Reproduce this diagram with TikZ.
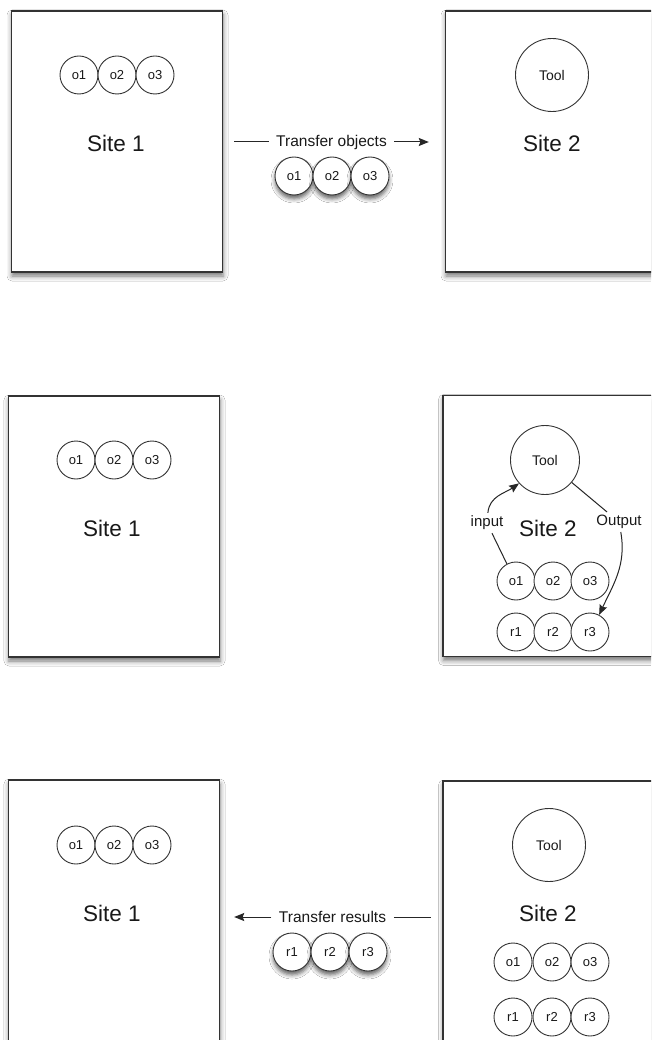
\documentclass[tikz,border=0pt]{standalone}
\usepackage{fontspec}
\setmainfont{Liberation Sans}
\usetikzlibrary{arrows.meta,shadows.blur}
\begin{document}
\begin{tikzpicture}[x=1pt,y=1pt,
  site/.style={draw=black!80, line width=1.4pt, fill=white, rectangle, minimum width=211pt, minimum height=261pt, inner sep=0pt,
    blur shadow={shadow xshift=0.5pt, shadow yshift=-4pt, shadow blur radius=5pt, shadow opacity=55}},
  obj/.style={circle, draw=black!80, line width=0.9pt, fill=white, minimum size=38pt, inner sep=0pt, text=black!90, font=\fontsize{13}{15}\selectfont},
  sobj/.style={obj, blur shadow={shadow xshift=0pt, shadow yshift=-4pt, shadow blur radius=4pt, shadow opacity=60}},
  tool/.style={circle, draw=black!80, line width=0.9pt, fill=white, minimum size=73pt, inner sep=0pt, text=black!90, font=\fontsize{14}{16}\selectfont},
  sitelbl/.style={font=\fontsize{22.5}{26}\selectfont, text=black!90},
  xferlbl/.style={font=\fontsize{15.5}{18}\selectfont, inner xsep=7.5pt, text=black!90},
  flowlbl/.style={font=\fontsize{15}{18}\selectfont, inner sep=3pt, text=black!90},
  conn/.style={draw=black!85, line width=1pt},
  tip/.style={-{Stealth[length=10pt,width=8pt,inset=1.5pt]}}
]
\clip (0,0) rectangle (651,-1040);
\fill[white] (0,0) rectangle (651,-1040);

% ---------- Row 1 ----------
\node[site] (A1) at (117,-141.5) {};
\node[obj] (a1o1) at (79,-75) {o1};
\node[obj] (a1o2) at (117,-75) {o2};
\node[obj] (a1o3) at (155,-75) {o3};
\node[sitelbl] (A1l) at (116,-143) {Site 1};

\node[site] (B1) at (551,-141.5) {};
\node[tool] (B1t) at (552,-75) {Tool};
\node[sitelbl] (B1l) at (552,-143) {Site 2};

\node[xferlbl] (T1) at (331.5,-142) {Transfer objects};
\draw[conn] ([xshift=11pt]T1.west -| A1.east) -- (T1.west);
\draw[conn,tip] (T1.east) -- ([xshift=-16pt]T1.east -| B1.west);
\node[sobj] (t1o1) at (294,-176) {o1};
\node[sobj] (t1o2) at (332,-176) {o2};
\node[sobj] (t1o3) at (370,-176) {o3};

% ---------- Row 2 ----------
\node[site] (A2) at (114,-526.5) {};
\node[obj] (a2o1) at (76,-460) {o1};
\node[obj] (a2o2) at (114,-460) {o2};
\node[obj] (a2o3) at (152,-460) {o3};
\node[sitelbl] (A2l) at (112,-528) {Site 1};

\node[site] (B2) at (548.5,-526) {};
\node[tool, minimum size=69pt] (B2t) at (545,-460) {Tool};
\node[sitelbl] (B2l) at (548,-528) {Site 2};
\node[obj] (m2o1) at (516,-581) {o1};
\node[obj] (m2o2) at (553,-581) {o2};
\node[obj] (m2o3) at (590,-581) {o3};
\node[obj] (m2r1) at (516,-632) {r1};
\node[obj] (m2r2) at (553,-632) {r2};
\node[obj] (m2r3) at (590,-632) {r3};
\node[flowlbl] (inl) at (487,-523) {input};
\node[flowlbl] (outl) at (619,-522) {Output};
\draw[conn] (m2o1.118) -- (inl);
\draw[conn,tip] (inl) to[out=85,in=215] (B2t.222);
\draw[conn] (B2t.-40) -- (outl);
\draw[conn,tip] (outl) to[out=-80,in=65] (m2r3.62);

% ---------- Row 3 ----------
\node[site] (A3) at (114,-910.5) {};
\node[obj] (a3o1) at (76,-845) {o1};
\node[obj] (a3o2) at (114,-845) {o2};
\node[obj] (a3o3) at (152,-845) {o3};
\node[sitelbl] (A3l) at (112,-913) {Site 1};

\node[site] (B3) at (548.5,-911.5) {};
\node[tool] (B3t) at (549,-845) {Tool};
\node[sitelbl] (B3l) at (548,-913) {Site 2};
\node[obj] (b3o1) at (513,-962) {o1};
\node[obj] (b3o2) at (552,-962) {o2};
\node[obj] (b3o3) at (590,-962) {o3};
\node[obj] (b3r1) at (513,-1017) {r1};
\node[obj] (b3r2) at (552,-1017) {r2};
\node[obj] (b3r3) at (590,-1017) {r3};

\node[xferlbl] (T3) at (332.5,-917) {Transfer results};
\draw[conn,tip] (T3.west) -- ([xshift=14pt]T3.west -| A3.east);
\draw[conn] (T3.east) -- ([xshift=-11pt]T3.east -| B3.west);
\node[sobj] (t3r1) at (292,-952) {r1};
\node[sobj] (t3r2) at (330,-952) {r2};
\node[sobj] (t3r3) at (368,-952) {r3};
\end{tikzpicture}
\end{document}
